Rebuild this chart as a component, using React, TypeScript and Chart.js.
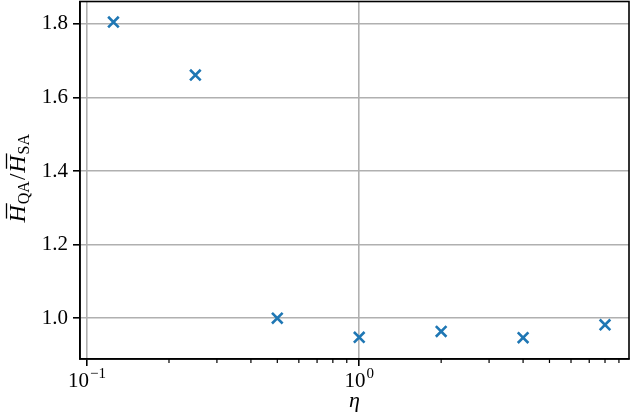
import Chart from "chart.js/auto";
import { useEffect, useRef } from "react";

// eta values (log x axis) and the measured ratio H_QA / H_SA
const etaValues = [0.125, 0.25, 0.5, 1, 2, 4, 8];
const ratioValues = [1.805, 1.661, 1.0, 0.948, 0.964, 0.947, 0.982];

const xMajorTicks = [0.1, 1];
const xTickExponents = ["\u22121", "0"];
const xMinorTicks = [0.2, 0.3, 0.4, 0.5, 0.6, 0.7, 0.8, 0.9, 2, 3, 4, 5, 6, 7, 8, 9];
const yTicks = [1.0, 1.2, 1.4, 1.6, 1.8];

const xLabel = "\u03b7";
// pieces of the y label: [text, kind]
const yLabelParts: Array<[string, string]> = [
  ["H", "bar"],
  ["QA", "sub"],
  ["/", "roman"],
  ["H", "bar"],
  ["SA", "sub"],
];

const FONT = "'Liberation Serif', 'DejaVu Serif', serif";
const BLUE = "#1f77b4";
const GRID = "#b0b0b0";

const axisExtras = {
  id: "axisExtras",
  afterDraw(chart: Chart) {
    const ctx = chart.ctx;
    const area = chart.chartArea;
    const xScale = chart.scales.x;

    ctx.save();
    // box around the plot
    ctx.strokeStyle = "#000";
    ctx.lineWidth = 1.6;
    ctx.strokeRect(area.left, area.top, area.right - area.left, area.bottom - area.top);

    // minor ticks on the log axis
    ctx.lineWidth = 1.2;
    ctx.beginPath();
    xMinorTicks.forEach((v) => {
      const px = xScale.getPixelForValue(v);
      if (px < area.left || px > area.right) return;
      ctx.moveTo(px, area.bottom);
      ctx.lineTo(px, area.bottom + 4);
    });
    ctx.stroke();

    // x tick labels as 10^n
    ctx.fillStyle = "#000";
    ctx.textBaseline = "alphabetic";
    ctx.textAlign = "left";
    const baseY = 387;
    xMajorTicks.forEach((v, i) => {
      const px = xScale.getPixelForValue(v);
      ctx.font = `21px ${FONT}`;
      const wBase = ctx.measureText("10").width;
      ctx.font = `15px ${FONT}`;
      const wExp = ctx.measureText(xTickExponents[i]).width;
      const x0 = px - (wBase + wExp + 1) / 2;
      ctx.font = `21px ${FONT}`;
      ctx.fillText("10", x0, baseY);
      ctx.font = `15px ${FONT}`;
      ctx.fillText(xTickExponents[i], x0 + wBase + 1, baseY - 9);
    });

    // y axis title, rotated
    const cy = (area.top + area.bottom) / 2 - 2;
    ctx.translate(25, cy);
    ctx.rotate(-Math.PI / 2);
    const fontFor = (kind: string) =>
      kind === "bar" ? `italic 24px ${FONT}` : kind === "sub" ? `16px ${FONT}` : `23px ${FONT}`;
    const widths = yLabelParts.map(([t, k]) => {
      ctx.font = fontFor(k);
      return ctx.measureText(t).width + (k === "roman" ? 2 : k === "bar" ? 1 : 0);
    });
    const total = widths.reduce((a, b) => a + b, 0);
    let u = -total / 2;
    yLabelParts.forEach(([t, k], i) => {
      ctx.font = fontFor(k);
      if (k === "sub") {
        ctx.fillText(t, u, 4);
      } else if (k === "roman") {
        ctx.fillText(t, u + 1, 0);
      } else {
        ctx.fillText(t, u, 0);
        ctx.lineWidth = 1.3;
        ctx.beginPath();
        ctx.moveTo(u + 4, -18.5);
        ctx.lineTo(u + widths[i] + 1, -18.5);
        ctx.stroke();
      }
      u += widths[i];
    });
    ctx.restore();
  },
};

export default function App() {
  const canvasRef = useRef<HTMLCanvasElement>(null);

  useEffect(() => {
    if (!canvasRef.current) return;

    const chart = new Chart(canvasRef.current, {
      type: "scatter",
      data: {
        datasets: [
          {
            label: "ratio",
            data: etaValues.map((x, i) => ({ x, y: ratioValues[i] })),
            pointStyle: "crossRot",
            pointRadius: 7.5,
            pointHoverRadius: 7.5,
            pointBorderWidth: 2.6,
            borderColor: BLUE,
            backgroundColor: BLUE,
          },
        ],
      },
      options: {
        animation: false,
        responsive: false,
        layout: { autoPadding: false, padding: { top: 1.5, right: 3, left: 0, bottom: 0 } },
        plugins: {
          legend: { display: false },
          tooltip: { enabled: false },
        },
        scales: {
          x: {
            type: "logarithmic",
            position: "bottom",
            min: 0.0942,
            max: 9.8,
            afterBuildTicks: (scale) => {
              scale.ticks = xMajorTicks.map((value) => ({ value }));
            },
            afterFit: (scale) => {
              scale.height = 60;
              scale.paddingLeft = 0;
              scale.paddingRight = 0;
            },
            ticks: { display: false },
            grid: {
              color: GRID,
              lineWidth: 1.6,
              tickColor: "#000",
              tickLength: 7,
              tickWidth: 1.6,
            },
            border: { color: "#000", width: 1.6 },
            title: {
              display: true,
              text: xLabel,
              color: "#000",
              font: { family: FONT, size: 22, style: "italic" },
              padding: { top: 0, bottom: 5 },
            },
          },
          y: {
            type: "linear",
            min: 0.889,
            max: 1.861,
            afterBuildTicks: (scale) => {
              scale.ticks = yTicks.map((value) => ({ value }));
            },
            afterFit: (scale) => {
              scale.width = 80;
              scale.paddingTop = 0;
              scale.paddingBottom = 0;
            },
            ticks: {
              color: "#000",
              padding: 5,
              font: { family: FONT, size: 21 },
              callback: (v) => Number(v).toFixed(1),
            },
            grid: {
              color: GRID,
              lineWidth: 1.6,
              tickColor: "#000",
              tickLength: 7,
              tickWidth: 1.6,
            },
            border: { color: "#000", width: 1.6 },
          },
        },
      },
      plugins: [axisExtras],
    });

    return () => {
      chart.destroy();
    };
  }, [canvasRef]);

  return (
    <div style={{ position: "absolute", left: 0, top: 0, width: 632, height: 419 }}>
      <canvas ref={canvasRef} width={632} height={419}></canvas>
    </div>
  );
}
